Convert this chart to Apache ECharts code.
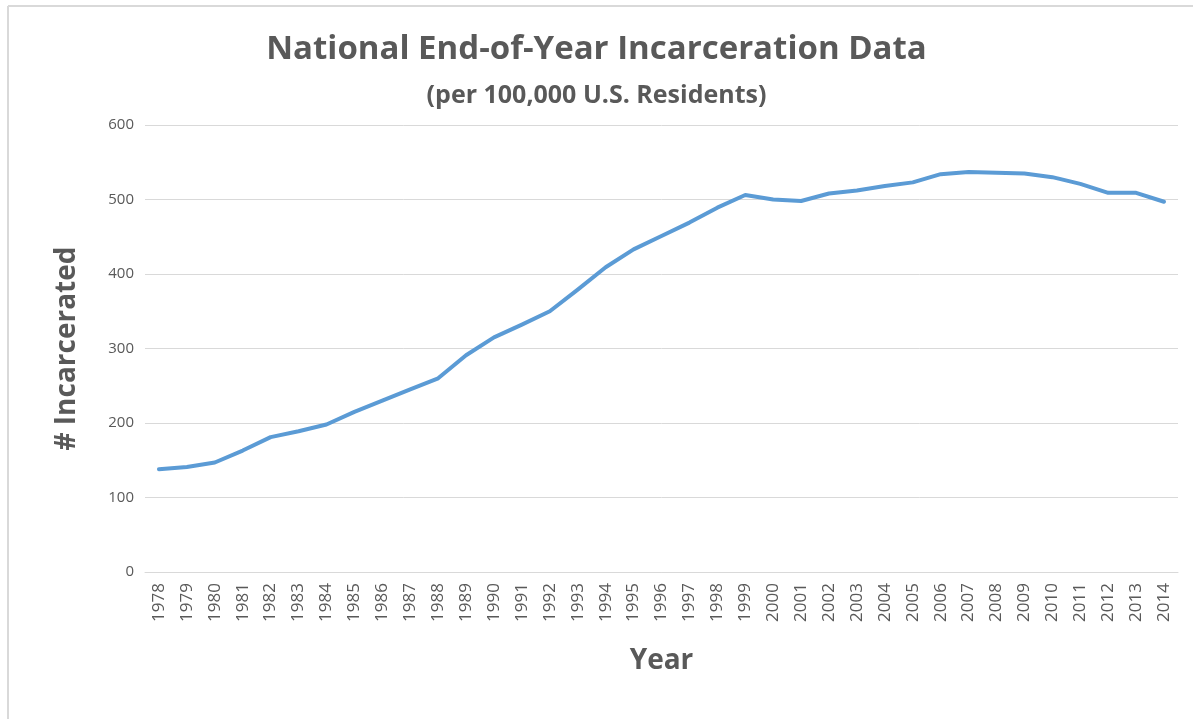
<!DOCTYPE html>
<html>
<head>
<meta charset="utf-8">
<script src="https://cdn.jsdelivr.net/npm/echarts@6/dist/echarts.min.js"></script>
<style>
html,body{margin:0;padding:0;background:#fff;}
#chart{width:1193px;height:719px;}
</style>
</head>
<body>
<div id="chart"></div>
<script>
const years = ['1978','1979','1980','1981','1982','1983','1984','1985','1986','1987','1988','1989','1990','1991','1992','1993','1994','1995','1996','1997','1998','1999','2000','2001','2002','2003','2004','2005','2006','2007','2008','2009','2010','2011','2012','2013','2014'];
const incarcerated = [138,141,147,163,181,189,198,215,230,245,260,291,315,332,350,379,409,433,451,469,489,506,500,498,508,512,518,523,534,537,536,535,530,521,509,509,497];
const yTicks = { min: 0, max: 600, interval: 100 };
const titleText = 'National End-of-Year Incarceration Data';
const subtitleText = '(per 100,000 U.S. Residents)';
const xName = 'Year';
const yName = '# Incarcerated';

const chart = echarts.init(document.getElementById('chart'), null, { renderer: 'canvas' });
const FONT = '"Open Sans", "Liberation Sans", sans-serif';
chart.setOption({
  backgroundColor: '#ffffff',
  animation: false,
  title: [
    { text: titleText, left: 'center', top: 28,
      textStyle: { fontFamily: FONT, fontSize: 33, fontWeight: 'bold', color: '#595959' } },
    { text: subtitleText, left: 'center', top: 78,
      textStyle: { fontFamily: FONT, fontSize: 25, fontWeight: 'bold', color: '#595959' } }
  ],
  graphic: [
    { type: 'line', shape: { x1: 8, y1: 6, x2: 1193, y2: 6 }, style: { stroke: '#d9d9d9', lineWidth: 2 } },
    { type: 'line', shape: { x1: 8, y1: 6, x2: 8, y2: 719 }, style: { stroke: '#d9d9d9', lineWidth: 2 } }
  ],
  grid: { left: 145, right: 15, top: 125, bottom: 147, containLabel: false },
  xAxis: {
    type: 'category',
    data: years,
    boundaryGap: true,
    name: xName,
    nameLocation: 'middle',
    nameGap: 75,
    nameTextStyle: { fontFamily: FONT, fontSize: 28, fontWeight: 'bold', color: '#595959' },
    axisLine: { show: true, lineStyle: { color: '#d9d9d9', width: 1 } },
    axisTick: { show: false },
    axisLabel: { rotate: 90, interval: 0, margin: 11, fontFamily: FONT, fontSize: 17, color: '#595959' }
  },
  yAxis: {
    type: 'value',
    min: yTicks.min, max: yTicks.max, interval: yTicks.interval,
    name: yName,
    nameLocation: 'middle',
    nameRotate: 90,
    nameGap: 64,
    nameTextStyle: { fontFamily: FONT, fontSize: 28, fontWeight: 'bold', color: '#595959' },
    axisLine: { show: false },
    axisTick: { show: false },
    axisLabel: { margin: 11, fontFamily: FONT, fontSize: 15, color: '#595959' },
    splitLine: { lineStyle: { color: '#d9d9d9', width: 1 } }
  },
  series: [{
    type: 'line',
    data: incarcerated,
    symbol: 'none',
    smooth: false,
    lineStyle: { color: '#5b9bd5', width: 4, cap: 'round', join: 'round' }
  }]
});
</script>
</body>
</html>
